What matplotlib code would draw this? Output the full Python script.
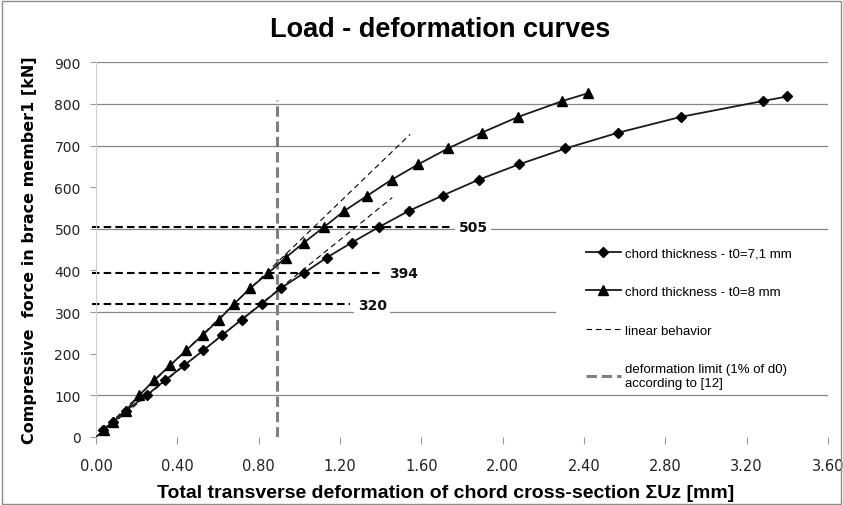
import matplotlib
matplotlib.use("Agg")
import matplotlib.pyplot as plt
from matplotlib.patches import Rectangle

# Load steps [kN] and total transverse deformation [mm]
load_71 = [18, 37, 63, 100, 136, 172, 208, 245, 282, 320, 357, 394, 431, 467,
           505, 543, 580, 618, 655, 693, 731, 769, 807, 818]
def_71 = [0.036, 0.085, 0.146, 0.249, 0.339, 0.433, 0.528, 0.621, 0.717, 0.815,
          0.908, 1.023, 1.135, 1.258, 1.394, 1.538, 1.705, 1.882, 2.081, 2.309,
          2.569, 2.877, 3.280, 3.400]

load_8 = [18, 37, 63, 100, 136, 172, 208, 245, 282, 320, 357, 394, 431, 467,
          505, 543, 580, 618, 655, 693, 731, 769, 807, 826]
def_8 = [0.041, 0.085, 0.146, 0.212, 0.285, 0.364, 0.443, 0.525, 0.605, 0.680,
         0.757, 0.848, 0.933, 1.023, 1.123, 1.221, 1.335, 1.454, 1.585, 1.731,
         1.897, 2.077, 2.294, 2.421]

# linear behavior lines (start, end)
lin_8_x = [0.0, 1.545]
lin_8_y = [0, 727]
lin_71_x = [0.0, 1.457]
lin_71_y = [0, 575]

# deformation limit (1% of d0)
limit_x = 0.89
limit_top = 810

# reference loads marked with dashed lines
ref_loads = [505, 394, 320]
ref_xend = [1.757, 1.397, 1.249]
ref_label_x = [1.854, 1.515, 1.358]
ref_label_y = [505, 394, 316]

# visible gridlines (level, right end)
grid_levels = [100, 300, 500, 700, 800, 900]
grid_xend = [3.6, 2.258, 3.6, 3.6, 3.6, 3.6]
x_ticks = [0.0, 0.4, 0.8, 1.2, 1.6, 2.0, 2.4, 2.8, 3.2, 3.6]
y_ticks = [0, 100, 200, 300, 400, 500, 600, 700, 800, 900]

fig = plt.figure(figsize=(8.43, 5.06), dpi=100)
ax = fig.add_axes([96 / 843, 1 - 438 / 506, 732 / 843, 374.7 / 506])

for g, xe in zip(grid_levels, grid_xend):
    ax.plot([0, xe], [g, g], color="#868686", lw=0.9, zorder=1)

# reference load lines + labels
for yv, xe, lx, ly in zip(ref_loads, ref_xend, ref_label_x, ref_label_y):
    ax.plot([-0.02, xe], [yv, yv], color="black", lw=1.5,
            linestyle=(0, (3.6, 2.0)), zorder=2, clip_on=False)
    ax.text(lx, ly, str(yv), ha="center", va="center", fontsize=10,
            fontweight="bold", family="DejaVu Sans", color="#111111",
            bbox=dict(facecolor="white", edgecolor="none", pad=2.5), zorder=3)

ax.plot([limit_x, limit_x], [0, limit_top], color="#7f7f7f", lw=2.2,
        linestyle=(0, (3.4, 1.6)), zorder=4,
        label="deformation limit (1% of d0)\naccording to [12]")

ax.plot(lin_8_x, lin_8_y, color="black", lw=0.8, linestyle=(0, (5, 3.5)), zorder=4)
ax.plot(lin_71_x, lin_71_y, color="black", lw=0.8, linestyle=(0, (5, 3.5)),
        zorder=4, label="linear behavior")

ax.plot(def_71, load_71, color="#1a1a1a", lw=1.3, marker="D", ms=5.5,
        mfc="black", mec="black", zorder=5, label="chord thickness - t0=7,1 mm")
ax.plot(def_8, load_8, color="#1a1a1a", lw=1.3, marker="^", ms=7.5,
        mfc="black", mec="black", zorder=5, label="chord thickness - t0=8 mm")

ax.set_xlim(0, 3.6)
ax.set_ylim(0, 900)
ax.set_xticks(x_ticks)
ax.set_xticklabels([f"{v:.2f}" for v in x_ticks], family="Liberation Sans Narrow",
                   fontsize=10.5, color="#222222")
ax.set_yticks(y_ticks)
ax.set_yticklabels([str(v) for v in y_ticks], family="DejaVu Sans",
                   fontsize=10, color="#222222")
ax.tick_params(axis="x", length=5, color="#999999", pad=10)
ax.tick_params(axis="y", length=4, color="#999999", pad=7)

for s in ["top", "right", "bottom"]:
    ax.spines[s].set_visible(False)
ax.spines["left"].set_color("#d0d0d0")

handles, labels = ax.get_legend_handles_labels()
order = [2, 3, 1, 0]
leg = ax.legend([handles[i] for i in order], [labels[i] for i in order],
                loc="upper left", bbox_to_anchor=(0.655, 0.535),
                frameon=True, facecolor="white", edgecolor="none",
                framealpha=1, fancybox=False, handlelength=2.65,
                handletextpad=0.3, labelspacing=2.0, borderpad=0.3,
                prop={"family": "Liberation Sans", "size": 9.5})
leg.set_zorder(6)

fig.text(440 / 843, 1 - 30 / 506, "Load - deformation curves", ha="center",
         va="center", fontsize=19.5, fontweight="bold", family="Liberation Sans")
fig.text(446 / 843, 1 - 494 / 506,
         "Total transverse deformation of chord cross-section \u03a3Uz [mm]",
         ha="center", va="center", fontsize=14, fontweight="bold",
         family="Liberation Sans")
fig.text(30 / 843, 1 - 250 / 506, "Compressive  force in brace member1 [kN]",
         ha="center", va="center", rotation=90, fontsize=11.5,
         fontweight="bold", family="DejaVu Sans")

fig.patches.append(Rectangle((0.002, 0.002), 0.996, 0.994,
                             transform=fig.transFigure, fill=False,
                             edgecolor="#8c8c8c", lw=1))

fig.savefig("out.png", dpi=100)
